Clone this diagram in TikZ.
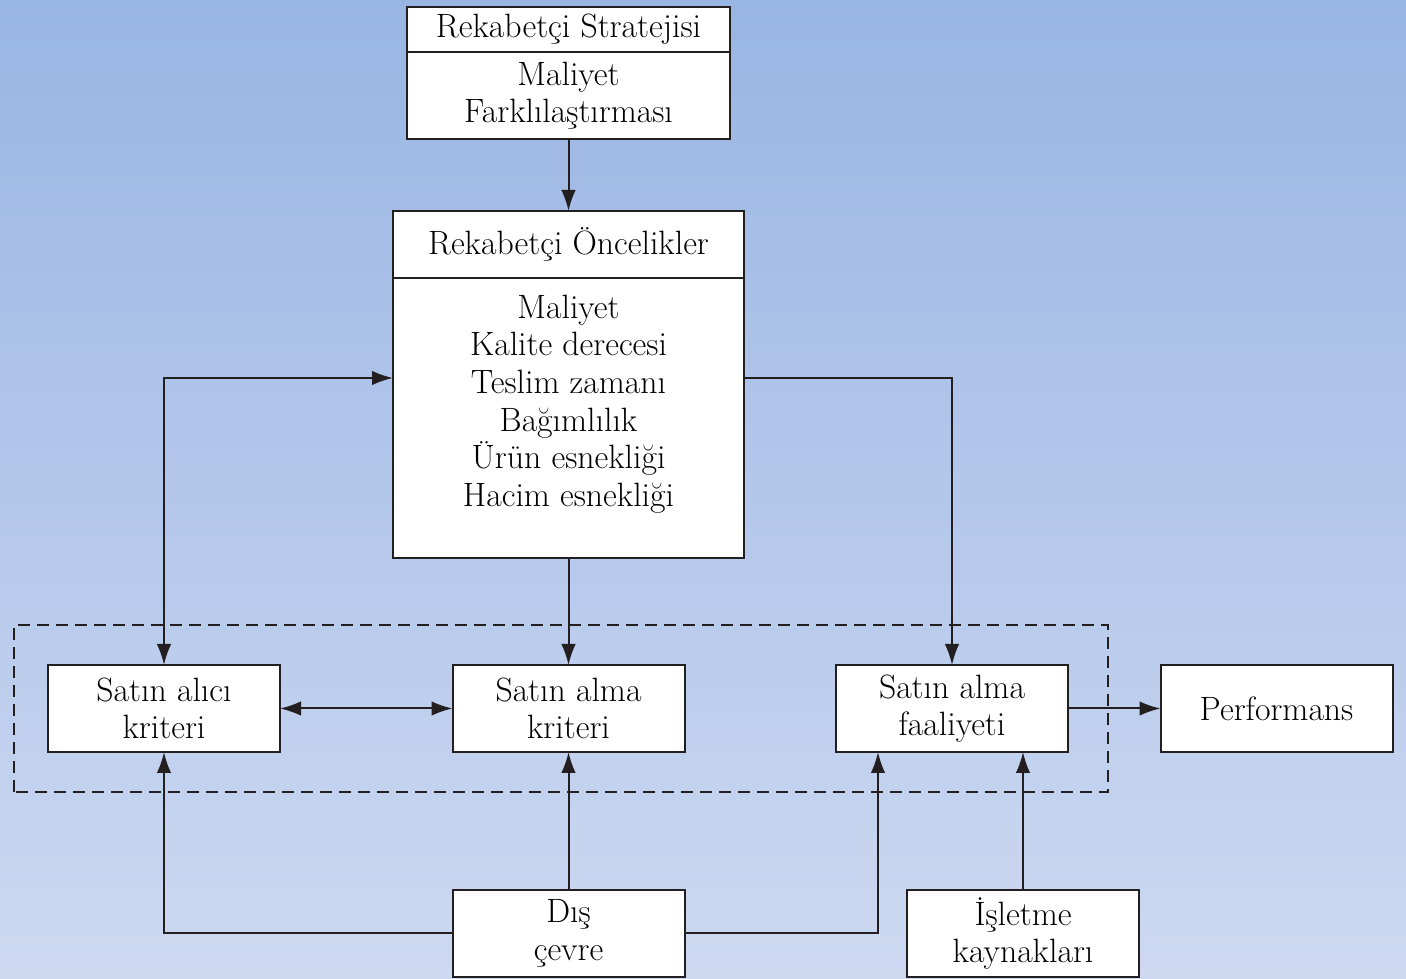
\documentclass[tikz,border=0pt]{standalone}
\usepackage{tikz}
\usetikzlibrary{positioning,arrows.meta}
\definecolor{bgtop}{HTML}{99B5E4}
\definecolor{bgbot}{HTML}{CDD9F1}
\definecolor{ink}{HTML}{231F20}

\begin{document}
\begin{tikzpicture}[
    txt/.style={font=\fontsize{19.2}{21.4}\selectfont},
    box/.style={rectangle, draw=ink, line width=0.04cm, fill=white, outer sep=0pt,
                minimum width=4.64cm, minimum height=1.74cm, align=center, txt},
    tip/.style={Latex[length=0.42cm,width=0.29cm]},
    arrow/.style={-{Latex[length=0.42cm,width=0.29cm]}, line width=0.04cm, ink},
    twoway/.style={{Latex[length=0.42cm,width=0.29cm]}-{Latex[length=0.42cm,width=0.29cm]}, line width=0.04cm, ink}
]
\useasboundingbox (0,0) rectangle (28.12,19.58);
\fill[top color=bgtop, bottom color=bgbot] (0,0) rectangle (28.12,19.58);

% purchasing group
\draw[dashed, line width=0.04cm, ink, dash pattern=on 0.24cm off 0.14cm]
    (0.28,3.74) rectangle (22.16,7.08);

\node[box, minimum width=6.46cm, minimum height=0.9cm] (stratHead) at (11.37,18.99) {Rekabetçi Stratejisi};
\node[box, minimum width=6.46cm, below=0pt of stratHead] (stratBody) {Maliyet\\Farklılaştırması};

\node[box, minimum width=7.02cm, minimum height=1.34cm] (prioHead) at (11.37,14.69) {Rekabetçi Öncelikler};
\node[box, minimum width=7.02cm, minimum height=5.6cm, below=0pt of prioHead] (prioBody) {};
\node[txt, anchor=north, inner sep=0pt, align=center] (prioList) at ([yshift=-0.33cm]prioBody.north)
    {Maliyet\\Kalite derecesi\\Teslim zamanı\\Bağımlılık\\Ürün esnekliği\\Hacim esnekliği};

\node[box] (buyer) at (3.28,5.41) {Satın alıcı\\kriteri};
\node[box] (crit) at (11.37,5.41) {Satın alma\\kriteri};
\node[box] (act) at (19.04,5.41) {Satın alma\\faaliyeti};
\node[box] (perf) at (25.53,5.41) {Performans};
\node[box] (env) at (11.37,0.91) {Dış\\çevre};
\node[box] (res) at (20.46,0.91) {İşletme\\kaynakları};

\draw[arrow] (stratBody) -- (prioHead);
\draw[twoway] (buyer.north) |- ([yshift=0.8cm]prioBody.west);
\draw[arrow] ([yshift=0.8cm]prioBody.east) -| (act.north);
\draw[arrow] (prioBody) -- (crit);
\draw[twoway] (buyer) -- (crit);
\draw[arrow] (act) -- (perf);
\draw[arrow] (env.west) -| (buyer.south);
\draw[arrow] (env) -- (crit);
\draw[arrow] (env.east) -| ([xshift=-1.48cm]act.south);
\draw[arrow] (res) -- (res |- act.south);
\end{tikzpicture}
\end{document}
